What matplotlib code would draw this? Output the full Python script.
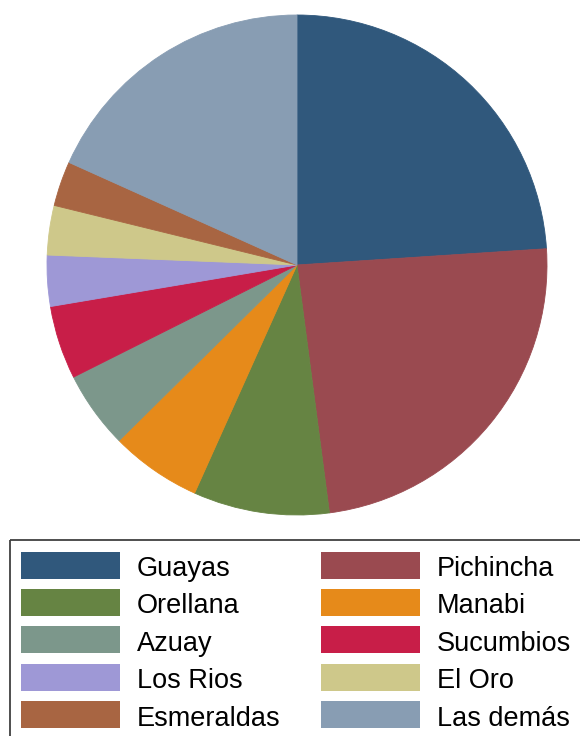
import matplotlib.pyplot as plt
from matplotlib.patches import Rectangle

provincias = ['Guayas', 'Pichincha', 'Orellana', 'Manabi', 'Azuay',
              'Sucumbios', 'Los Rios', 'El Oro', 'Esmeraldas', 'Las demás']
shares = [24.0, 24.0, 8.8, 5.9, 5.0, 4.75, 3.3, 3.2, 2.9, 18.3]
colores = ['#30587c', '#9a4a50', '#668443', '#e68a1a', '#7c978b',
           '#c81e48', '#9e98d6', '#cec88a', '#a86542', '#889db3']

W, H = 580, 736
fig = plt.figure(figsize=(W / 100, H / 100), dpi=100)
plt.rcParams['font.family'] = ['Liberation Sans', 'DejaVu Sans']

# pie: centre (297, 265) px, radius 250 px
ax = fig.add_axes([47 / W, (H - 515) / H, 500 / W, 500 / H])
wedges, _ = ax.pie(shares, colors=colores, startangle=90, counterclock=False,
                   radius=1, wedgeprops=dict(linewidth=0.6))
for w, c in zip(wedges, colores):
    w.set_edgecolor(c)
ax.set_xlim(-1, 1)
ax.set_ylim(-1, 1)
ax.set_aspect('equal')
ax.axis('off')

# legend box, drawn in pixel coordinates of the figure
lg = fig.add_axes([0, 0, 1, 1], zorder=3)
lg.set_xlim(0, W)
lg.set_ylim(H, 0)
lg.axis('off')
lg.add_patch(Rectangle((10, 540), 600, 250, fill=False,
                       edgecolor='#404040', linewidth=1.3))
for i, (name, col) in enumerate(zip(provincias, colores)):
    row, colnum = divmod(i, 2)
    y = 565 + row * 37.4
    x0 = 21 if colnum == 0 else 321
    lg.add_patch(Rectangle((x0, y - 13.5), 99, 27, facecolor=col,
                           edgecolor='none'))
    lg.text(x0 + 116, y + 11, name, fontsize=19.5, va='baseline', ha='left',
            color='black')

fig.savefig('out.png', dpi=100)
